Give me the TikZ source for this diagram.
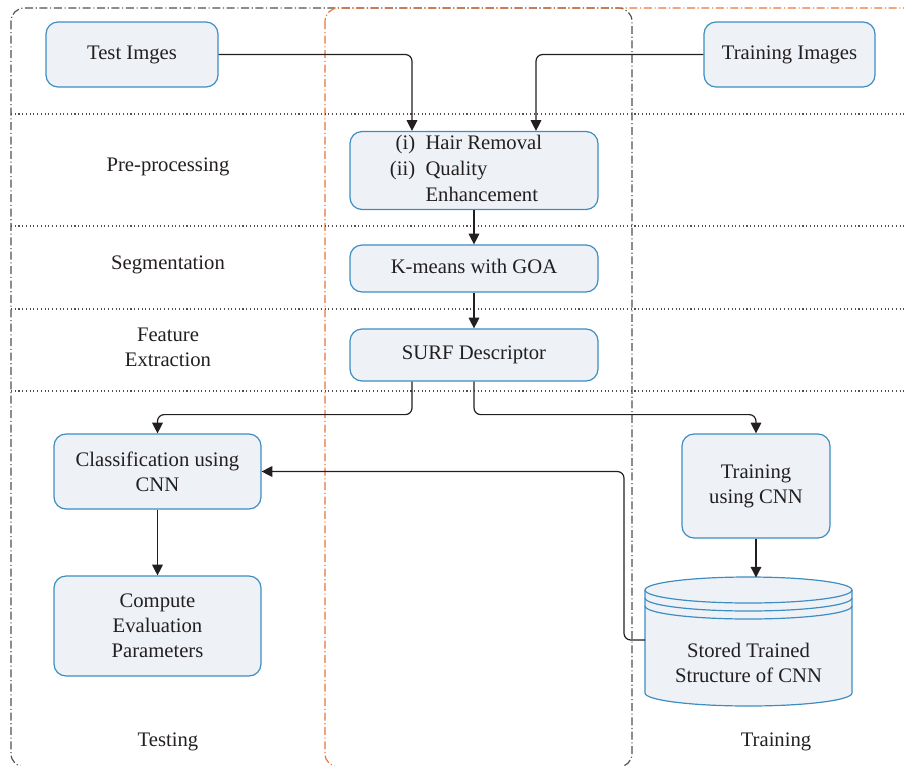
\documentclass[tikz,border=0pt]{standalone}
\usepackage{fontspec}
\setmainfont{Liberation Serif}
\usetikzlibrary{arrows.meta, positioning, calc}
\usepackage{xcolor}

\definecolor{boxfill}{HTML}{EEF2F7}
\definecolor{boxline}{HTML}{3D8DC0}
\definecolor{inkline}{HTML}{231F20}
\definecolor{testline}{HTML}{505050}
\definecolor{trainline}{HTML}{E8743B}

\tikzset{
  procbox/.style={draw=boxline, fill=boxfill, rounded corners=9pt, line width=0.9pt, align=center, text=inkline, inner sep=0pt},
  lanelabel/.style={align=center, text=inkline},
  flow/.style={-{Triangle[length=8pt,width=8pt]}, draw=inkline, line width=0.9pt, rounded corners=5pt},
  rowline/.style={dotted, draw=testline, line width=0.8pt},
  testlane/.style={draw=testline, line width=0.9pt, rounded corners=10pt, dash pattern=on 6pt off 2pt on 0.8pt off 2pt},
  trainlane/.style={draw=trainline, line width=0.9pt, rounded corners=10pt, dash pattern=on 6pt off 2pt on 0.8pt off 2pt},
  cylline/.style={draw=boxline, line width=0.9pt}
}

\begin{document}
\begin{tikzpicture}[x=0.75pt, y=-0.75pt, font=\fontsize{15.5}{18.75}\selectfont]
    \useasboundingbox (0,0) rectangle (904,765);
    \clip (0,0) rectangle (904,765);

    % Lanes
    \draw[testlane] (11,8) rectangle (632,767);
    \draw[trainlane] (325,8) rectangle (940,767);

    % Row separators
    \foreach \rowy in {114,226,309,391}
        \draw[rowline] (11,\rowy) -- (904,\rowy);

    % Row labels
    \node[lanelabel] (prelabel) at (168,167) {Pre-processing};
    \node[lanelabel] (seglabel) at (168,265) {Segmentation};
    \node[lanelabel] (featlabel) at (168,347) {Feature\\Extraction};
    \node[lanelabel] (testlabel) at (168,742) {Testing};
    \node[lanelabel] (trainlabel) at (776,742) {Training};

    % Inputs
    \node[procbox, minimum width=129pt, minimum height=48.75pt] (testimg) at (132,54.5) {\raisebox{-1.5pt}{Test Imges}};
    \node[procbox, minimum width=128.25pt, minimum height=48.75pt] (trainimg) at (789.5,54.5) {\raisebox{-1.5pt}{Training Images}};

    % Shared steps
    \node[procbox, minimum width=186pt, minimum height=56.25pt] (preproc) at (474,170.5)
        {\renewcommand{\arraystretch}{1.04}\begin{tabular}{@{}r@{\ \ }l@{\hspace{12pt}}}(i) & Hair Removal\\(ii) & Quality\\ & Enhancement\end{tabular}};
    \node[procbox, minimum width=186pt, minimum height=35.25pt] (kmeans) at (474,268.5) {K-means with GOA\strut};
    \node[procbox, minimum width=186pt, minimum height=39pt] (surf) at (474,355) {\raisebox{-1pt}{SURF Descriptor}};

    % Testing side
    \node[procbox, minimum width=155.25pt, minimum height=56.25pt] (classify) at (157.5,471.5) {Classification using\\CNN};
    \node[procbox, minimum width=155.25pt, minimum height=75pt] (evalparam) at (157.5,626) {Compute\\Evaluation\\Parameters};

    % Training side
    \node[procbox, minimum width=111pt, minimum height=78pt] (traincnn) at (756,486) {Training\\using CNN};

    % Stored model (cylinder)
    \fill[boxfill] (645,590) -- (645,693) arc[start angle=180, end angle=360, x radius=77.625pt, y radius=9.75pt]
        -- (852,590) arc[start angle=0, end angle=180, x radius=77.625pt, y radius=9.75pt] -- cycle;
    \draw[cylline] (645,590) -- (645,693) arc[start angle=180, end angle=360, x radius=77.625pt, y radius=9.75pt] -- (852,590);
    \draw[cylline] (748.5,590) ellipse [x radius=77.625pt, y radius=9.75pt];
    \foreach \ringy in {598,606}
        \draw[cylline] (645,\ringy) arc[start angle=180, end angle=360, x radius=77.625pt, y radius=9.75pt];
    \node[lanelabel] (store) at (748.5,663) {Stored Trained\\Structure of CNN};
    \coordinate (storetop) at (756,577.5);
    \coordinate (storeleft) at (645,640);

    % Connectors
    \draw[flow] (testimg.east) -| ($(preproc.north)+(-62,0)$);
    \draw[flow] (trainimg.west) -| ($(preproc.north)+(62,0)$);
    \draw[flow] (preproc.south) -- (kmeans.north);
    \draw[flow] (kmeans.south) -- (surf.north);
    \draw[flow] ($(surf.south)+(-62,0)$) -- ++(0,33) -| (classify.north);
    \draw[flow] (surf.south) -- ++(0,33) -| (traincnn.north);
    \draw[flow] (classify.south) -- (evalparam.north);
    \draw[flow] (traincnn.south) -- (storetop);
    \draw[flow] (storeleft) -- ++(-21,0) |- (classify.east);
\end{tikzpicture}
\end{document}
